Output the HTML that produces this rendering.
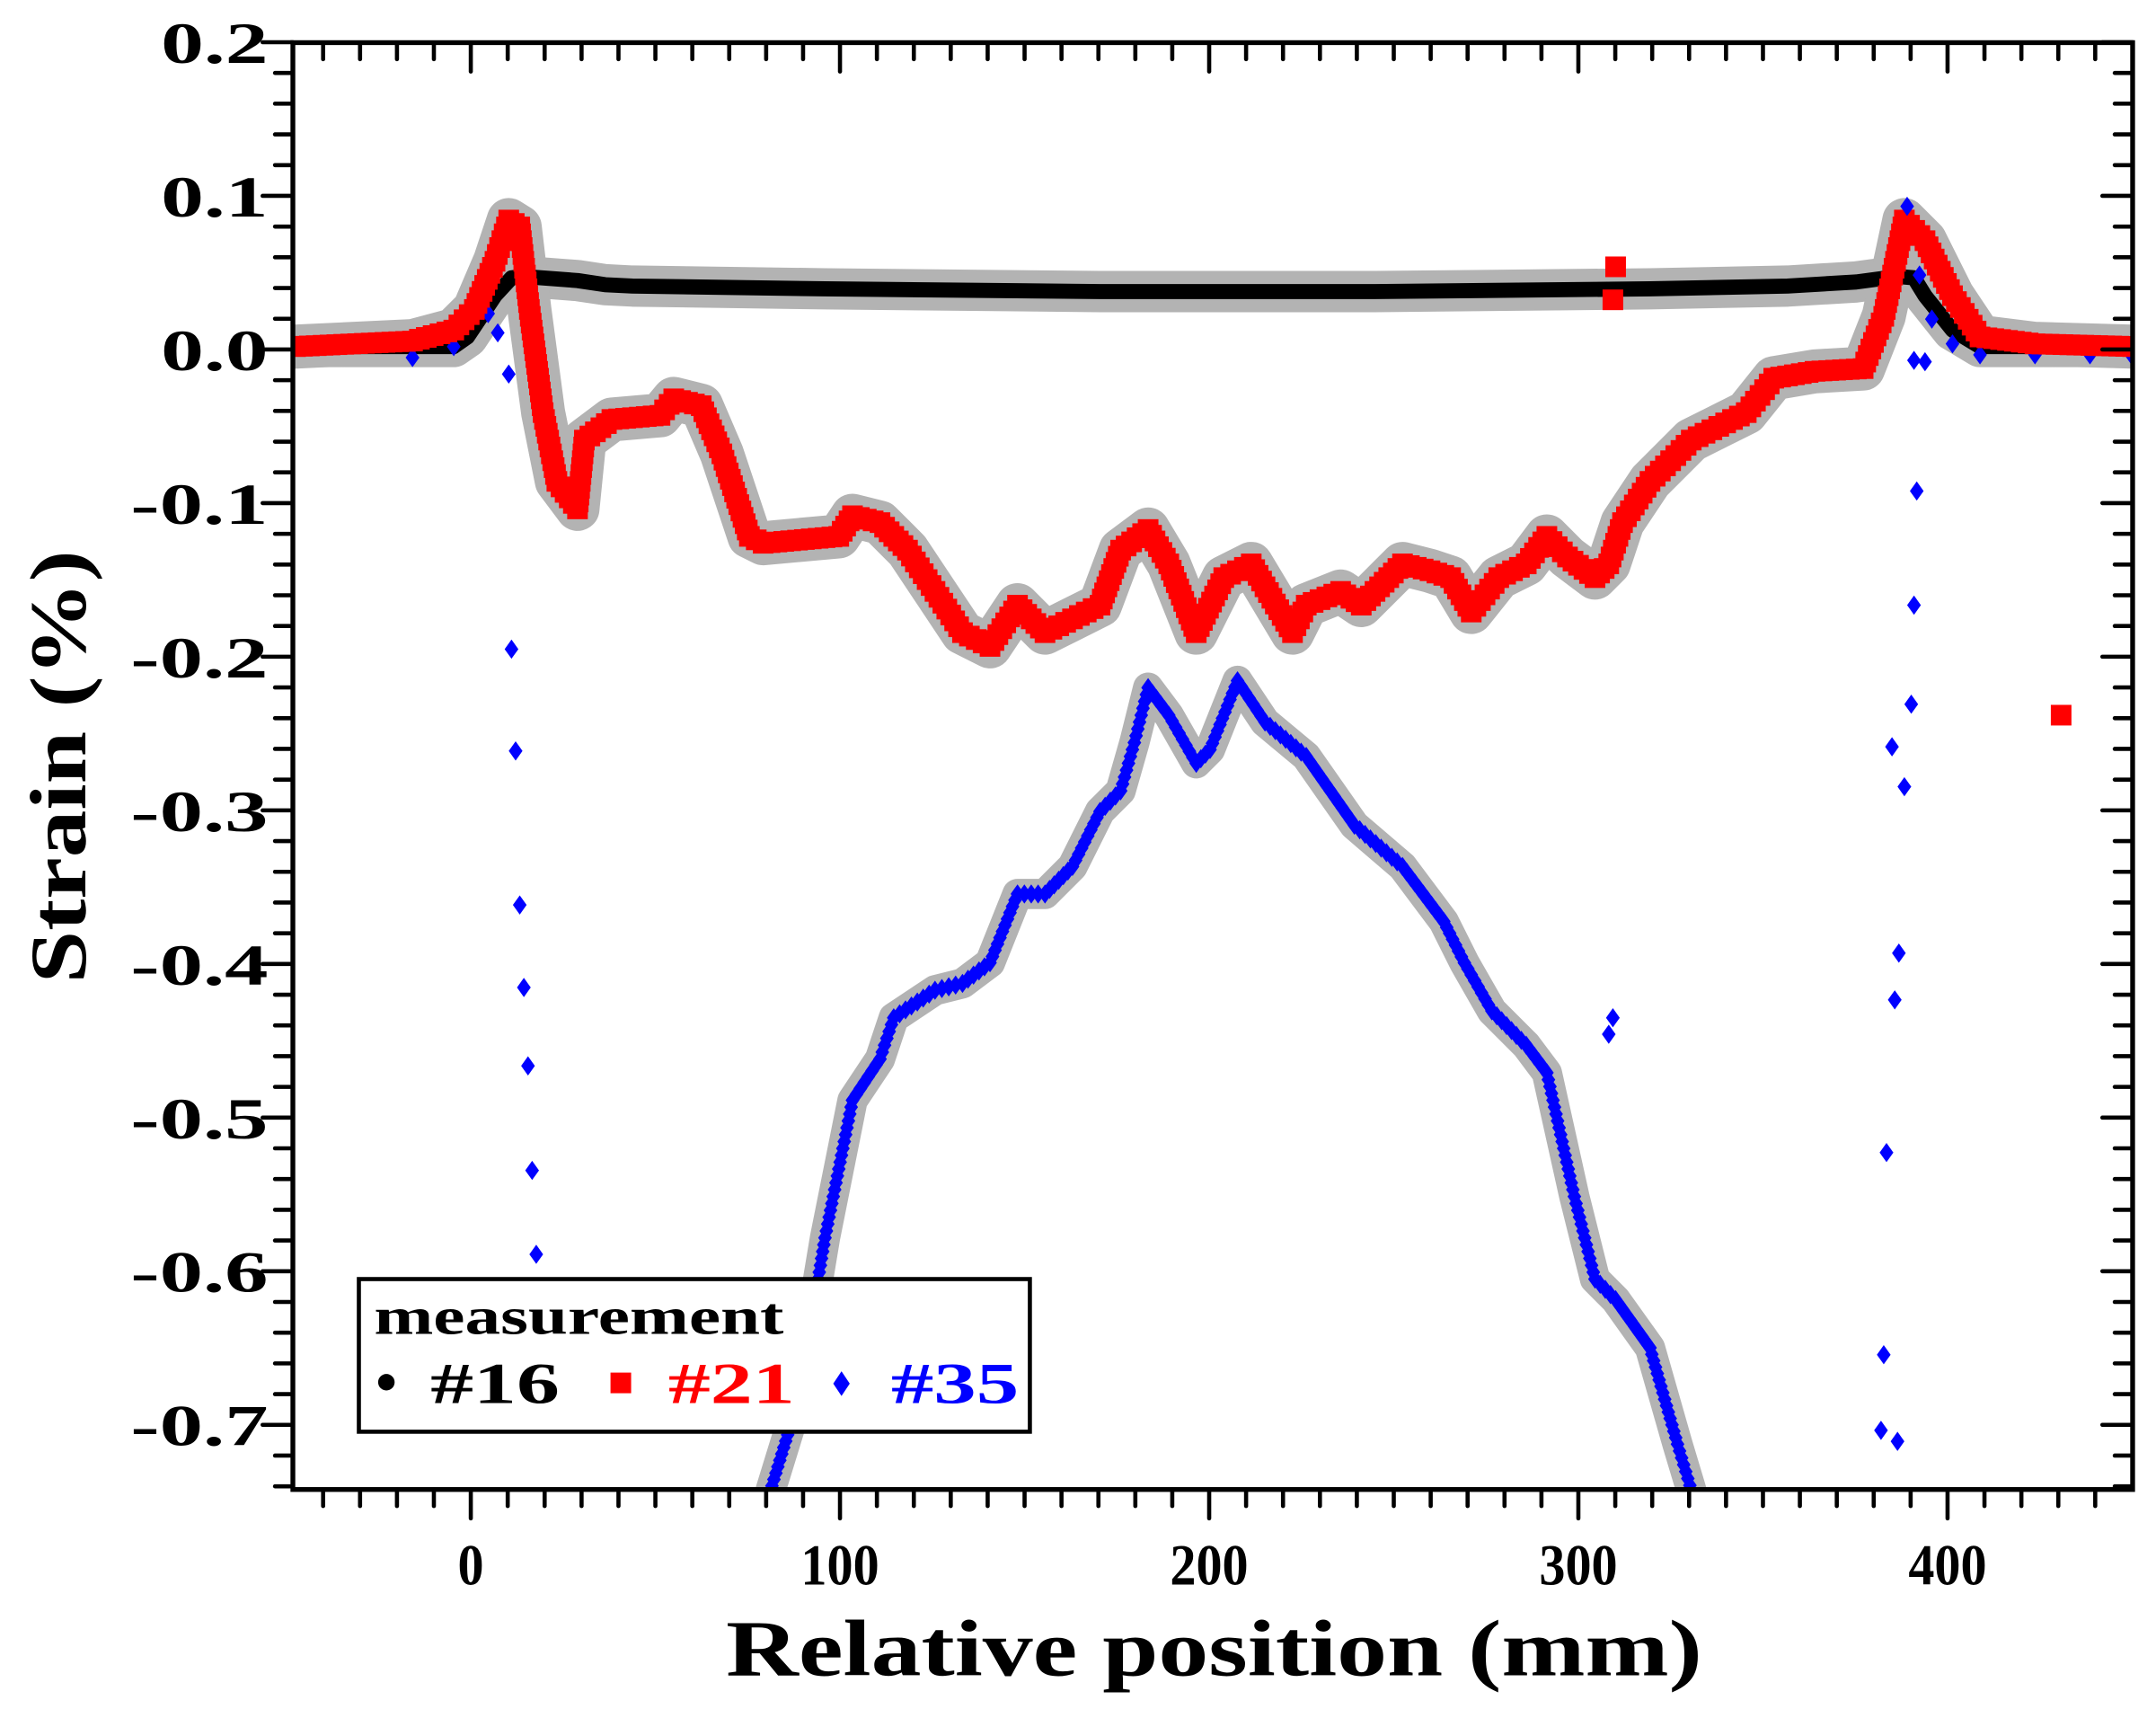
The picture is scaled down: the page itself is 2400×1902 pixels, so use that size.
<!DOCTYPE html>
<html><head><meta charset="utf-8"><style>html,body{margin:0;padding:0;background:#fff}svg{display:block}</style></head>
<body>
<svg id="s" width="2400" height="1902" viewBox="0 0 1568 1242.6" preserveAspectRatio="none" xmlns="http://www.w3.org/2000/svg" font-family="Liberation Serif, serif" font-weight="bold">
<defs><clipPath id="c"><rect x="213" y="31" width="1338" height="1052"/></clipPath></defs>
<g id="data" clip-path="url(#c)"></g>
<g id="axes" stroke="#000" stroke-width="3" fill="none" stroke-linecap="round"></g>
<rect x="213" y="31" width="1338" height="1052" fill="none" stroke="#000" stroke-width="3.5"/>
<g id="lab" font-size="42" fill="#000"></g>
<text x="528" y="1218" font-size="58" textLength="710" lengthAdjust="spacingAndGlyphs">Relative position (mm)</text>
<text transform="translate(62,715) rotate(-90)" font-size="58" textLength="315" lengthAdjust="spacingAndGlyphs">Strain (%)</text>
<g>
<rect x="261" y="930" width="488" height="111" fill="#fff" stroke="#000" stroke-width="3"/>
<text x="272" y="970" font-size="38" textLength="298" lengthAdjust="spacingAndGlyphs">measurement</text>
<circle cx="281" cy="1005" r="6" fill="#000"/>
<text x="313" y="1020" font-size="42" fill="#000" textLength="94" lengthAdjust="spacingAndGlyphs">#16</text>
<rect x="444" y="998" width="15" height="15" fill="#f00"/>
<text x="486" y="1020" font-size="42" fill="#f00" textLength="92" lengthAdjust="spacingAndGlyphs">#21</text>
<path d="M612 997 L618 1006 L612 1015 L606 1006Z" fill="#00f"/>
<text x="648" y="1020" font-size="42" fill="#00f" textLength="93" lengthAdjust="spacingAndGlyphs">#35</text>
</g>
</svg>
<script>
const NS="http://www.w3.org/2000/svg";
const X=v=>342.4+2.685*v, Y=s=>254.1-1117*s;
const ax=document.getElementById('axes'), lab=document.getElementById('lab'), dg=document.getElementById('data');
function el(p,t,a){const e=document.createElementNS(NS,t);for(const k in a)e.setAttribute(k,a[k]);p.appendChild(e);return e;}
for(let v=-40;v<=440;v+=10){const x=X(v),M=v%100==0;const L=M?21:12;
 el(ax,'line',{x1:x,y1:1083,x2:x,y2:1083+L});el(ax,'line',{x1:x,y1:31,x2:x,y2:31+L});
 if(M){const w=String(v).length*19;const t=el(lab,'text',{x:x-w/2,y:1152,textLength:w,lengthAdjust:'spacingAndGlyphs'});t.textContent=v;}}
for(let i=-37;i<=10;i++){const s=i*0.02,y=Y(s);const M=i%5==0;const L=M?22:13;
 el(ax,'line',{x1:213-L,y1:y,x2:213,y2:y});el(ax,'line',{x1:1551-L,y1:y,x2:1551,y2:y});
 if(M){const w=s<0?100:78;const t=el(lab,'text',{x:195-w,y:y+15,textLength:w,lengthAdjust:'spacingAndGlyphs'});t.textContent=(s<0?'-':'')+Math.abs(s).toFixed(1);}}
function pts(a){const r=[];for(let i=0;i<a.length;i+=2)r.push([a[i],a[i+1]]);return r;}
function dense(p,step){const o=[];for(let i=0;i<p.length-1;i++){const[a,b]=p[i],[c,d]=p[i+1];const n=Math.max(1,Math.round(Math.hypot(c-a,d-b)/step));for(let k=0;k<n;k++)o.push([a+(c-a)*k/n,b+(d-b)*k/n]);}o.push(p[p.length-1]);return o;}
function halo(p,w){el(dg,'polyline',{points:p.map(q=>q.join(',')).join(' '),fill:'none',stroke:'#b3b3b3','stroke-width':w,'stroke-linejoin':'round','stroke-linecap':'round'});}
const blk=pts([213,252,330,252,340,245,350,230,360,215,372,202,380,201,420,204,440,207,460,208,600,210,800,212,1000,212,1200,210,1300,208,1350,205,1380,201,1392,202,1400,215,1420,240,1440,252,1551,252]);
const red=pts([215,252,300,248,330,240,345,225,360,190,370,160,378,165,385,225,395,300,405,350,420,370,425,320,445,305,480,302,490,290,510,295,525,330,545,390,555,395,610,390,620,375,640,380,660,400,680,430,700,460,720,470,740,440,760,460,780,450,800,440,815,400,835,385,850,410,870,460,890,420,910,410,940,460,950,440,975,430,990,440,1010,420,1020,410,1040,415,1055,420,1070,445,1090,420,1110,410,1125,390,1140,405,1160,420,1170,410,1180,380,1200,350,1230,320,1250,310,1270,300,1290,275,1320,270,1355,268,1370,230,1385,160,1400,175,1420,215,1440,245,1480,250,1551,252]);
const blue=pts([560,1085,580,1020,600,900,620,800,640,770,650,740,680,720,700,715,720,700,740,650,760,650,780,630,800,590,815,575,825,540,835,500,850,520,870,555,880,545,900,495,920,525,950,550,985,600,1020,630,1050,670,1065,700,1085,735,1110,760,1125,780,1145,870,1160,930,1175,945,1200,980,1220,1050,1232,1090]);
halo(blk,30);halo(red,32);halo(blue.slice(0,38),22);
el(dg,'polyline',{points:blk.map(q=>q.join(',')).join(' '),fill:'none',stroke:'#000','stroke-width':11,'stroke-linejoin':'round'});
function sq(x,y){el(dg,'rect',{x:x-7.5,y:y-7.5,width:15,height:15,fill:'#f00'});}
function dm(x,y){el(dg,'path',{d:`M${x} ${y-7}L${x+5} ${y}L${x} ${y+7}L${x-5} ${y}Z`,fill:'#00f'});}
const bs=[[300,260],[330,252],[345,222],[355,228],[362,242],[370,272],[1392,262],[1405,232],[1420,250],[1440,258],[1480,258],[1520,258],[1550,258]];
bs.forEach(p=>dm(...p));
dense(red,5).forEach(p=>sq(...p)); sq(1175,194); sq(1173,218); sq(1499,520);
dense(blue,5).forEach(p=>dm(...p));
[[372,472],[375,546],[378,658],[381,718],[384,775],[387,851],[390,912],[1170,752],[1173,740],[1380,1048],[1370,985],[1368,1040],[1372,838],[1378,727],[1381,693],[1385,572],[1376,543],[1390,512],[1392,440],[1394,357],[1387,150],[1396,200],[1400,263]].forEach(p=>dm(...p));
</script>
</body></html>
